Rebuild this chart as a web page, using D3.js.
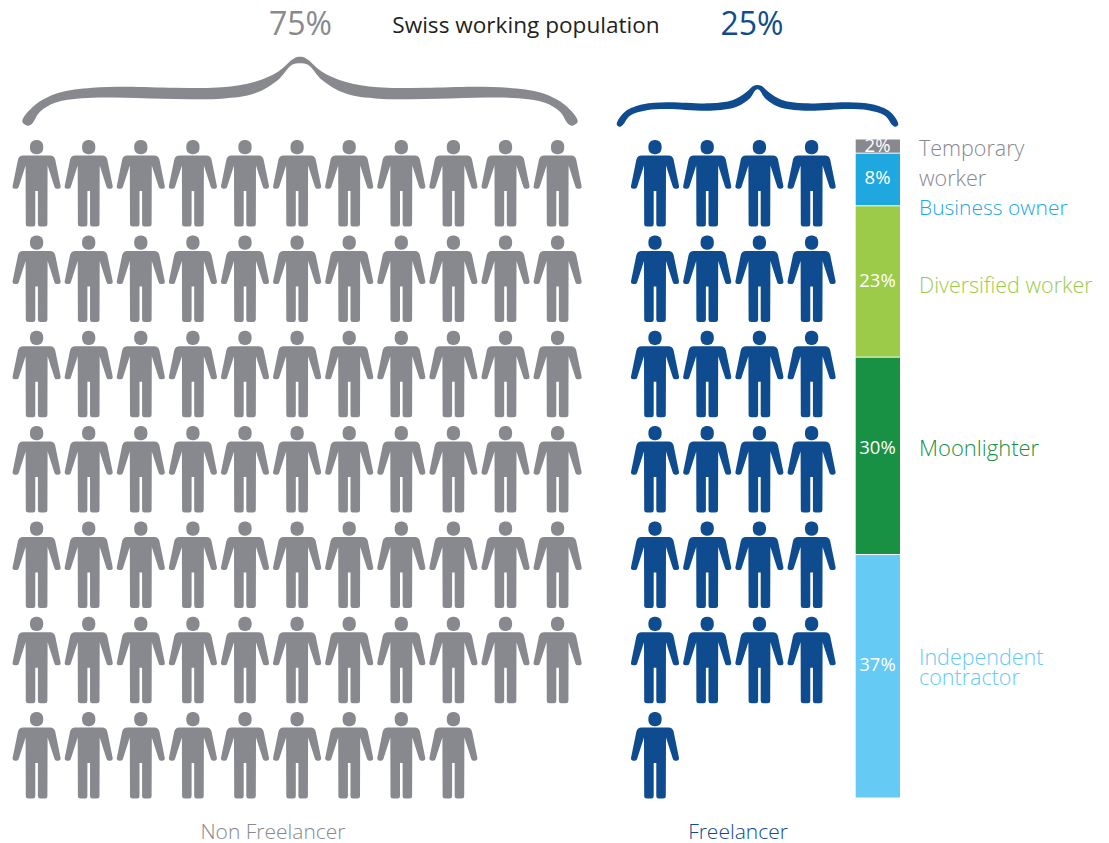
<!DOCTYPE html>
<html><head><meta charset="utf-8">
<script src="https://cdn.jsdelivr.net/npm/d3@7"></script>
<style>html,body{margin:0;background:#fff}svg{display:block}text{font-family:"Open Sans",sans-serif}</style>
</head><body><svg id="c" width="1109" height="843"></svg>
<script>
const nonFreelancerRows = [11,11,11,11,11,11,9];
const freelancerRows = [4,4,4,4,4,4,1];
const segments = ["Temporary worker","Business owner","Diversified worker","Moonlighter","Independent contractor"];
const segmentValues = [2,8,23,30,37];
const segmentColors = ["#88898e","#1fa7e0","#9bcb49","#189144","#65caf4"];
const shares = ["75%","25%"];
const GRAY="#88898e", NAVY="#0f4c8f";

const svg=d3.select("#c");
const rowY=d3.scalePoint().domain(d3.range(7)).range([140.1,712.1]);
const grayX=d3.scalePoint().domain(d3.range(11)).range([36.6,557.6]);
const navyX=d3.scalePoint().domain(d3.range(4)).range([655,811.6]);

const bodyPath="M-13.5,15.5 L13.5,15.5 Q17.5,15.5 18.6,19.5 L24,45.8 Q24.4,48.5 21.8,48.6 L20.2,48.6 Q18.4,48.6 17.9,47 L11,25.5 L10.8,84 Q10.8,86.5 8,86.5 L3.6,86.5 Q1.3,86.5 1.3,84 L1.3,51 L-1.3,51 L-1.3,84 Q-1.3,86.5 -3.6,86.5 L-8,86.5 Q-10.8,86.5 -10.8,84 L-11,25.5 L-17.9,47 Q-18.4,48.6 -20.2,48.6 L-21.8,48.6 Q-24.4,48.5 -24,45.8 L-18.6,19.5 Q-17.5,15.5 -13.5,15.5 Z";

function people(rows,x,color,cls){
  const cells=rows.flatMap((n,r)=>d3.range(n).map(c=>({r,c})));
  const g=svg.append("g").selectAll("g."+cls).data(cells).join("g").attr("class",cls)
    .attr("transform",d=>`translate(${x(d.c)},${rowY(d.r)})`).attr("fill",color);
  g.append("rect").attr("x",-6.6).attr("y",0).attr("width",13.2).attr("height",14.2).attr("rx",6).attr("ry",6);
  g.append("path").attr("d",bodyPath);
}
people(nonFreelancerRows,grayX,GRAY,"np");
people(freelancerRows,navyX,NAVY,"fp");

const barY=d3.scaleLinear().domain([0,d3.sum(segmentValues)]).range([139.5,797.5]);
let acc=0;
const stack=segmentValues.map((v,i)=>{const s={i,v,y0:acc,y1:acc+v};acc+=v;return s;});
svg.append("g").selectAll("rect").data(stack).join("rect")
  .attr("x",855.7).attr("width",44.3)
  .attr("y",d=>barY(d.y0)+(d.i?1:0)).attr("height",d=>barY(d.y1)-barY(d.y0)-(d.i?1:0))
  .attr("fill",d=>segmentColors[d.i]);
const pctY=[152,184,287,454,671];
svg.append("g").selectAll("text").data(stack).join("text")
  .attr("x",877.5).attr("y",d=>pctY[d.i]).attr("text-anchor","middle")
  .attr("font-size",18.5).attr("fill","#fff").text(d=>d.v+"%");

// brace outlines: [distance from centre, y], tip to centre, mirrored about the centre
const grayBraceTop=[[277.7,121.5],[265,105],[242,93],[208,87.7],[175,86.7],[125,87.7],[78,87.3],[45,81.7],[22,71.7],[8.3,60],[3,57]];
const grayBraceBottom=[[272.3,125.7],[268.3,124],[260,111.7],[245,102.7],[218,98.3],[175,97.7],[125,99],[78,98.7],[45,93.3],[22,80],[8.3,65],[0,63.3]];
const navyBraceTop=[[140.8,124.3],[132.5,111.7],[114.5,104.3],[90.8,102.3],[47.5,103.3],[24.5,100],[10.8,91.7],[4.2,86],[0,85]];
const navyBraceBottom=[[138,126.8],[134.8,125],[127.5,115.7],[110.8,110.3],[90.8,109],[47.5,110.7],[20.8,106.7],[7.5,98.3],[2.5,90.7],[0,89.3]];
const braceLine=d3.line().curve(d3.curveCatmullRomClosed.alpha(0.5));
function brace(c,top,bottom){
  const mir=a=>a.filter(p=>p[0]>0).map(p=>[c+p[0],p[1]]).reverse();
  const left=a=>a.map(p=>[c-p[0],p[1]]);
  const pts=[...left(top),...mir(top),...mir(bottom).reverse(),...left(bottom).reverse()];
  return braceLine(pts);
}
svg.append("path").attr("d",brace(300,grayBraceTop,grayBraceBottom)).attr("fill",GRAY);
svg.append("path").attr("d",brace(757.5,navyBraceTop,navyBraceBottom)).attr("fill",NAVY);

function txt(s,x,y,size,fill,anchor,weight){
  svg.append("text").attr("x",x).attr("y",y).attr("font-size",size).attr("fill",fill)
   .attr("text-anchor",anchor||"start").attr("font-weight",weight||300).text(s);
}
txt(shares[0],300.5,35,32,GRAY,"middle",400);
txt(shares[1],752,35,32,NAVY,"middle",400);
txt("Swiss working population",526,33,22.6,"#231f20","middle",500);
txt("Temporary",919,156,21.5,GRAY);
txt("worker",919,186,21.5,GRAY);
txt("Business owner",919,215,21,segmentColors[1]);
txt("Diversified worker",919,293,21.5,segmentColors[2]);
txt("Moonlighter",919,456,22,segmentColors[3]);
txt("Independent",919,665,21.5,segmentColors[4]);
txt("contractor",919,685,21.5,segmentColors[4]);
txt("Non Freelancer",273,838.5,21,GRAY,"middle");
txt("Freelancer",738,838.5,21,NAVY,"middle");
</script></body></html>
